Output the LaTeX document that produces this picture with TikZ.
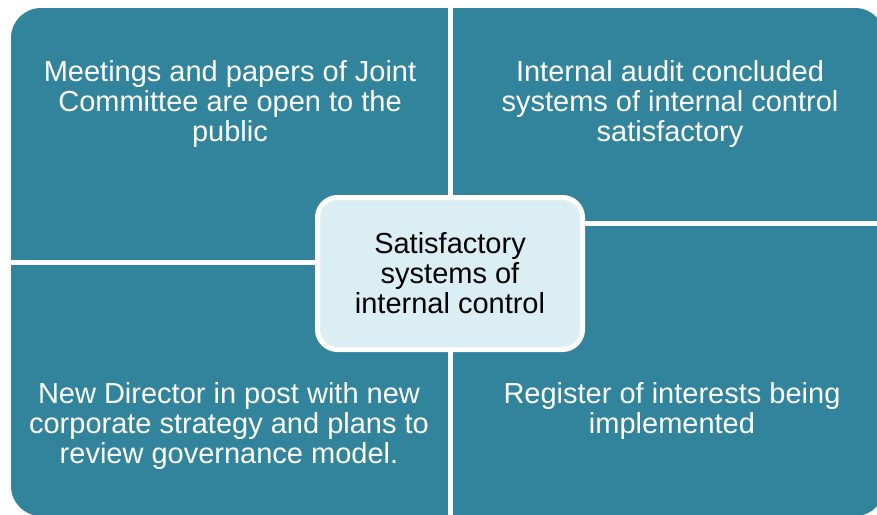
\documentclass[tikz,border=0pt]{standalone}
\usepackage{fontspec}
\setmainfont{Liberation Sans}
\definecolor{quadteal}{HTML}{31849B}
\definecolor{centerfill}{HTML}{DAEEF3}
\tikzset{
  quadtext/.style={text=white, align=center, inner sep=0pt, font=\fontsize{29}{30}\selectfont},
  hubbox/.style={draw=white, line width=5pt, fill=centerfill, rounded corners=20pt,
    minimum width=265pt, minimum height=152pt, align=center, text=black, inner sep=0pt,
    font=\fontsize{29}{30}\selectfont}
}
\begin{document}
\begin{tikzpicture}[x=1pt, y=-1pt]
\useasboundingbox (0,0) rectangle (877,514);
\begin{scope}
  \clip[rounded corners=30pt] (11,8) rectangle (885,516);
  \fill[quadteal] (11,8) rectangle (448,260);
  \fill[quadteal] (453,8) rectangle (885,221);
  \fill[quadteal] (453,226) rectangle (885,516);
  \fill[quadteal] (11,265) rectangle (448,516);
\end{scope}
\node[quadtext] (tl) at (230,104) {Meetings and papers of Joint\\Committee are open to the\\public};
\node[quadtext] (tr) at (670,104) {Internal audit concluded\\systems of internal control\\satisfactory};
\node[quadtext] (bl) at (229,426) {New Director in post with new\\corporate strategy and plans to\\review governance model.};
\node[quadtext] (br) at (672,411) {Register of interests being\\implemented};
\node[hubbox] (hub) at (450,273.5) {Satisfactory\\systems of\\internal control};
\end{tikzpicture}
\end{document}
